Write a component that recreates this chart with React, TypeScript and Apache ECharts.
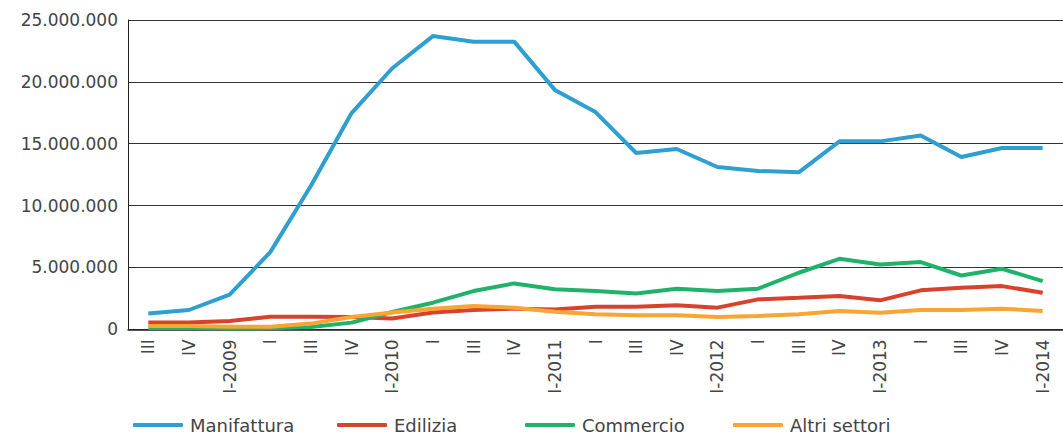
import React, { useEffect, useRef } from "react";
import * as echarts from "echarts";

const categories = [
  "III", "IV", "I-2009", "I", "III", "IV", "I-2010", "I", "III", "IV", "I-2011", "I",
  "III", "IV", "I-2012", "I", "III", "IV", "I-2013", "I", "III", "IV", "I-2014",
];

const manifattura = [
  1270000, 1560000, 2800000, 6240000, 11600000, 17480000, 21100000, 23700000, 23250000, 23250000,
  19350000, 17560000, 14250000, 14570000, 13120000, 12800000, 12690000, 15190000, 15190000,
  15670000, 13930000, 14650000, 14650000,
];

const edilizia = [
  540000, 540000, 670000, 1020000, 1020000, 1000000, 880000, 1350000, 1560000, 1670000,
  1610000, 1830000, 1830000, 1940000, 1750000, 2420000, 2550000, 2690000, 2340000,
  3150000, 3360000, 3490000, 2960000,
];

const commercio = [
  100000, 100000, 60000, 80000, 190000, 540000, 1400000, 2150000, 3090000, 3710000,
  3230000, 3090000, 2900000, 3280000, 3090000, 3280000, 4570000, 5700000, 5240000,
  5430000, 4350000, 4890000, 3900000,
];

const altriSettori = [
  270000, 270000, 200000, 200000, 460000, 990000, 1350000, 1670000, 1880000, 1750000,
  1420000, 1210000, 1130000, 1130000, 990000, 1080000, 1210000, 1480000, 1340000,
  1560000, 1560000, 1670000, 1480000,
];

const seriesNames = ["Manifattura", "Edilizia", "Commercio", "Altri settori"];
const seriesColors = ["#2f9fd2", "#d8412c", "#20b26b", "#f9a533"];
const legendLefts = [133, 337, 525, 733];

const FONT = "DejaVu Sans";

function fmt(v: number): string {
  return String(Math.round(v)).replace(/\B(?=(\d{3})+(?!\d))/g, ".");
}

export default function App() {
  const ref = useRef<HTMLDivElement>(null);

  useEffect(() => {
    document.body.style.margin = "0";
    if (!ref.current) return;
    const chart = echarts.init(ref.current, undefined, { renderer: "svg" });
    const allData = [manifattura, edilizia, commercio, altriSettori];
    chart.setOption({
      animation: false,
      backgroundColor: "#ffffff",
      grid: { left: 128, top: 20, width: 944, bottom: 111.7, containLabel: false },
      legend: seriesNames.map((name, i) => ({
        left: legendLefts[i],
        top: 416,
        padding: 0,
        icon: "roundRect",
        itemWidth: 50,
        itemHeight: 4,
        textStyle: { fontFamily: FONT, fontSize: 18, color: "#444", padding: [0, 0, 0, 2] },
        data: [name],
      })),
      xAxis: {
        type: "category",
        data: categories,
        boundaryGap: true,
        axisLine: { show: true, lineStyle: { color: "#222", width: 1.5 } },
        axisTick: { show: false },
        axisLabel: {
          rotate: 90,
          margin: 10,
          interval: 0,
          fontFamily: FONT,
          fontSize: 17,
          color: "#444",
        },
        splitLine: { show: false },
      },
      yAxis: {
        type: "value",
        min: 0,
        max: 25000000,
        interval: 5000000,
        axisLine: { show: true, lineStyle: { color: "#222", width: 1 } },
        axisTick: { show: false },
        axisLabel: {
          margin: 10,
          fontFamily: FONT,
          fontSize: 17,
          color: "#444",
          formatter: (v: number) => fmt(v),
        },
        splitLine: { show: true, lineStyle: { color: "#333", width: 1 } },
      },
      series: seriesNames.map((name, i) => ({
        name,
        type: "line",
        data: allData[i],
        symbol: "none",
        lineStyle: { color: seriesColors[i], width: 4 },
        itemStyle: { color: seriesColors[i] },
      })),
    });
    return () => chart.dispose();
  }, []);

  return <div ref={ref} style={{ width: 1063, height: 441 }} />;
}
